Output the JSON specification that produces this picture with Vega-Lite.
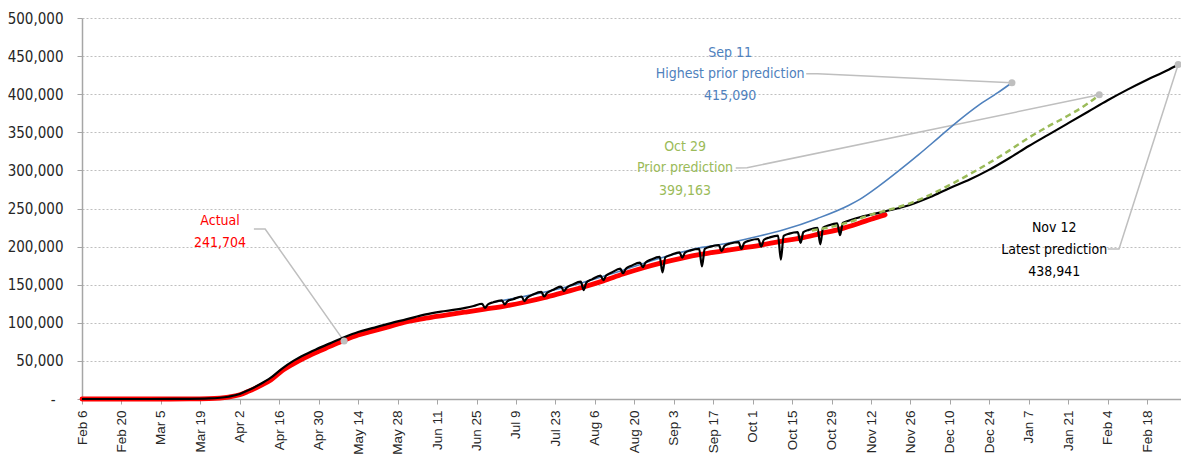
{
  "$schema": "https://vega.github.io/schema/vega-lite/v6.json",
  "width": 1099,
  "height": 381,
  "autosize": {"type": "none"},
  "padding": {"left": 82, "top": 18, "right": 0, "bottom": 65},
  "background": "white",
  "config": {"view": {"stroke": null}},
  "datasets": {
    "actual": [
      {"date": "2020-02-06", "value": 0},
      {"date": "2020-03-01", "value": 0},
      {"date": "2020-03-15", "value": 100},
      {"date": "2020-03-22", "value": 500},
      {"date": "2020-03-29", "value": 2500},
      {"date": "2020-04-02", "value": 5500},
      {"date": "2020-04-05", "value": 10000},
      {"date": "2020-04-09", "value": 17000},
      {"date": "2020-04-13", "value": 25000},
      {"date": "2020-04-17", "value": 37000},
      {"date": "2020-04-21", "value": 46000},
      {"date": "2020-04-25", "value": 54000},
      {"date": "2020-04-29", "value": 61000},
      {"date": "2020-05-04", "value": 69000},
      {"date": "2020-05-09", "value": 77000},
      {"date": "2020-05-14", "value": 84000},
      {"date": "2020-05-19", "value": 89000},
      {"date": "2020-05-25", "value": 95000},
      {"date": "2020-05-31", "value": 101000},
      {"date": "2020-06-07", "value": 106000},
      {"date": "2020-06-14", "value": 110000},
      {"date": "2020-06-21", "value": 114000},
      {"date": "2020-06-28", "value": 118000},
      {"date": "2020-07-05", "value": 122000},
      {"date": "2020-07-12", "value": 127000},
      {"date": "2020-07-19", "value": 133000},
      {"date": "2020-07-26", "value": 140000},
      {"date": "2020-08-02", "value": 147000},
      {"date": "2020-08-09", "value": 155000},
      {"date": "2020-08-16", "value": 164000},
      {"date": "2020-08-23", "value": 172000},
      {"date": "2020-08-30", "value": 179000},
      {"date": "2020-09-06", "value": 185000},
      {"date": "2020-09-13", "value": 190000},
      {"date": "2020-09-20", "value": 194000},
      {"date": "2020-09-27", "value": 198000},
      {"date": "2020-10-04", "value": 202000},
      {"date": "2020-10-11", "value": 207000},
      {"date": "2020-10-18", "value": 211000},
      {"date": "2020-10-25", "value": 217000},
      {"date": "2020-11-01", "value": 223000},
      {"date": "2020-11-08", "value": 231000},
      {"date": "2020-11-12", "value": 236000},
      {"date": "2020-11-17", "value": 241704}
    ],
    "latest": [
      {"date": "2020-02-06", "value": 0},
      {"date": "2020-03-01", "value": 0},
      {"date": "2020-03-15", "value": 200},
      {"date": "2020-03-22", "value": 700},
      {"date": "2020-03-29", "value": 3000},
      {"date": "2020-04-02", "value": 6500},
      {"date": "2020-04-05", "value": 11500},
      {"date": "2020-04-09", "value": 19000},
      {"date": "2020-04-13", "value": 28000},
      {"date": "2020-04-17", "value": 40000},
      {"date": "2020-04-21", "value": 50000},
      {"date": "2020-04-25", "value": 58000},
      {"date": "2020-04-29", "value": 65000},
      {"date": "2020-05-04", "value": 73000},
      {"date": "2020-05-09", "value": 81000},
      {"date": "2020-05-14", "value": 88000},
      {"date": "2020-05-19", "value": 93000},
      {"date": "2020-05-25", "value": 99000},
      {"date": "2020-05-31", "value": 104500},
      {"date": "2020-06-07", "value": 111000},
      {"date": "2020-06-14", "value": 115500},
      {"date": "2020-06-21", "value": 119500},
      {"date": "2020-06-24", "value": 122000},
      {"date": "2020-06-27", "value": 125000},
      {"date": "2020-06-28", "value": 119500},
      {"date": "2020-06-29", "value": 124000},
      {"date": "2020-07-01", "value": 127000},
      {"date": "2020-07-04", "value": 129500},
      {"date": "2020-07-05", "value": 124000},
      {"date": "2020-07-06", "value": 128500},
      {"date": "2020-07-08", "value": 131000},
      {"date": "2020-07-11", "value": 134500},
      {"date": "2020-07-12", "value": 128500},
      {"date": "2020-07-13", "value": 133000},
      {"date": "2020-07-15", "value": 137000},
      {"date": "2020-07-18", "value": 140500},
      {"date": "2020-07-19", "value": 134500},
      {"date": "2020-07-20", "value": 139000},
      {"date": "2020-07-22", "value": 143000},
      {"date": "2020-07-25", "value": 147500},
      {"date": "2020-07-26", "value": 141500},
      {"date": "2020-07-27", "value": 146000},
      {"date": "2020-07-29", "value": 150000},
      {"date": "2020-08-01", "value": 154000},
      {"date": "2020-08-02", "value": 143000},
      {"date": "2020-08-03", "value": 153000},
      {"date": "2020-08-05", "value": 157000},
      {"date": "2020-08-08", "value": 162000},
      {"date": "2020-08-09", "value": 156000},
      {"date": "2020-08-10", "value": 162000},
      {"date": "2020-08-12", "value": 166000},
      {"date": "2020-08-15", "value": 171000},
      {"date": "2020-08-16", "value": 165000},
      {"date": "2020-08-17", "value": 171000},
      {"date": "2020-08-19", "value": 175000},
      {"date": "2020-08-22", "value": 179000},
      {"date": "2020-08-23", "value": 173000},
      {"date": "2020-08-24", "value": 179000},
      {"date": "2020-08-26", "value": 183000},
      {"date": "2020-08-29", "value": 186500},
      {"date": "2020-08-30", "value": 166000},
      {"date": "2020-08-31", "value": 186000},
      {"date": "2020-09-02", "value": 189000},
      {"date": "2020-09-05", "value": 192500},
      {"date": "2020-09-06", "value": 185500},
      {"date": "2020-09-07", "value": 192000},
      {"date": "2020-09-09", "value": 195000},
      {"date": "2020-09-12", "value": 197000},
      {"date": "2020-09-13", "value": 174000},
      {"date": "2020-09-14", "value": 197000},
      {"date": "2020-09-16", "value": 200000},
      {"date": "2020-09-19", "value": 202000},
      {"date": "2020-09-20", "value": 194000},
      {"date": "2020-09-21", "value": 201000},
      {"date": "2020-09-23", "value": 204000},
      {"date": "2020-09-26", "value": 206000},
      {"date": "2020-09-27", "value": 197000},
      {"date": "2020-09-28", "value": 205000},
      {"date": "2020-09-30", "value": 208000},
      {"date": "2020-10-03", "value": 210000},
      {"date": "2020-10-04", "value": 200000},
      {"date": "2020-10-05", "value": 209000},
      {"date": "2020-10-07", "value": 212000},
      {"date": "2020-10-10", "value": 214500},
      {"date": "2020-10-11", "value": 183000},
      {"date": "2020-10-12", "value": 214000},
      {"date": "2020-10-14", "value": 217000},
      {"date": "2020-10-17", "value": 219000},
      {"date": "2020-10-18", "value": 205000},
      {"date": "2020-10-19", "value": 219000},
      {"date": "2020-10-21", "value": 222000},
      {"date": "2020-10-24", "value": 224500},
      {"date": "2020-10-25", "value": 203000},
      {"date": "2020-10-26", "value": 225000},
      {"date": "2020-10-28", "value": 228000},
      {"date": "2020-10-31", "value": 230500},
      {"date": "2020-11-01", "value": 215000},
      {"date": "2020-11-02", "value": 231000},
      {"date": "2020-11-04", "value": 234000},
      {"date": "2020-11-07", "value": 237500},
      {"date": "2020-11-08", "value": 238500},
      {"date": "2020-11-12", "value": 242000},
      {"date": "2020-11-19", "value": 248000},
      {"date": "2020-11-26", "value": 255000},
      {"date": "2020-12-03", "value": 265000},
      {"date": "2020-12-10", "value": 277000},
      {"date": "2020-12-17", "value": 288000},
      {"date": "2020-12-24", "value": 301000},
      {"date": "2020-12-31", "value": 316000},
      {"date": "2021-01-07", "value": 332000},
      {"date": "2021-01-14", "value": 347000},
      {"date": "2021-01-21", "value": 362000},
      {"date": "2021-01-28", "value": 377000},
      {"date": "2021-02-04", "value": 392000},
      {"date": "2021-02-11", "value": 406000},
      {"date": "2021-02-18", "value": 419000},
      {"date": "2021-02-25", "value": 431000},
      {"date": "2021-03-01", "value": 438941}
    ],
    "sep11": [
      {"date": "2020-07-01", "value": 127000},
      {"date": "2020-07-15", "value": 137000},
      {"date": "2020-08-01", "value": 152000},
      {"date": "2020-08-15", "value": 168000},
      {"date": "2020-09-01", "value": 188000},
      {"date": "2020-09-13", "value": 199000},
      {"date": "2020-09-20", "value": 203000},
      {"date": "2020-09-30", "value": 211000},
      {"date": "2020-10-12", "value": 222000},
      {"date": "2020-10-24", "value": 237000},
      {"date": "2020-11-04", "value": 254000},
      {"date": "2020-11-08", "value": 262000},
      {"date": "2020-11-15", "value": 280000},
      {"date": "2020-11-22", "value": 300000},
      {"date": "2020-11-29", "value": 321000},
      {"date": "2020-12-06", "value": 343000},
      {"date": "2020-12-13", "value": 365000},
      {"date": "2020-12-20", "value": 385000},
      {"date": "2020-12-27", "value": 402000},
      {"date": "2021-01-01", "value": 415090}
    ],
    "oct29": [
      {"date": "2020-10-22", "value": 221000},
      {"date": "2020-10-29", "value": 226000},
      {"date": "2020-11-05", "value": 233000},
      {"date": "2020-11-12", "value": 242000},
      {"date": "2020-11-19", "value": 249000},
      {"date": "2020-11-26", "value": 257000},
      {"date": "2020-12-03", "value": 268000},
      {"date": "2020-12-10", "value": 281000},
      {"date": "2020-12-17", "value": 295000},
      {"date": "2020-12-24", "value": 310000},
      {"date": "2020-12-31", "value": 326000},
      {"date": "2021-01-07", "value": 343000},
      {"date": "2021-01-14", "value": 358000},
      {"date": "2021-01-21", "value": 372000},
      {"date": "2021-01-28", "value": 388000},
      {"date": "2021-02-01", "value": 399163}
    ],
    "leaders": [
      {"id": 1, "ord": 1, "date": "2020-10-20", "value": 427000},
      {"id": 1, "ord": 2, "date": "2020-10-24", "value": 427000},
      {"id": 1, "ord": 3, "date": "2021-01-01", "value": 415090},
      {"id": 2, "ord": 1, "date": "2020-09-25", "value": 303000},
      {"id": 2, "ord": 2, "date": "2020-09-29", "value": 303500},
      {"id": 2, "ord": 3, "date": "2021-02-01", "value": 399163},
      {"id": 3, "ord": 1, "date": "2020-04-07", "value": 223000},
      {"id": 3, "ord": 2, "date": "2020-04-11", "value": 223000},
      {"id": 3, "ord": 3, "date": "2020-05-09", "value": 76000},
      {"id": 4, "ord": 1, "date": "2021-02-04", "value": 197000},
      {"id": 4, "ord": 2, "date": "2021-02-08", "value": 197000},
      {"id": 4, "ord": 3, "date": "2021-03-01", "value": 438941}
    ],
    "dots": [
      {"date": "2020-05-09", "value": 76000},
      {"date": "2021-01-01", "value": 415090},
      {"date": "2021-02-01", "value": 399163},
      {"date": "2021-03-01", "value": 438941}
    ],
    "notes": [
      {"text": "Sep 11", "date": "2020-09-23", "value": 454000, "s": "sep"},
      {"text": "Highest prior prediction", "date": "2020-09-23", "value": 426500, "s": "sep"},
      {"text": "415,090", "date": "2020-09-23", "value": 398000, "s": "sep"},
      {"text": "Oct 29", "date": "2020-09-07", "value": 331000, "s": "oct"},
      {"text": "Prior prediction", "date": "2020-09-07", "value": 303000, "s": "oct"},
      {"text": "399,163", "date": "2020-09-07", "value": 273000, "s": "oct"},
      {"text": "Actual", "date": "2020-03-26", "value": 234000, "s": "act"},
      {"text": "241,704", "date": "2020-03-26", "value": 205000, "s": "act"},
      {"text": "Nov 12", "date": "2021-01-16", "value": 224000, "s": "nov"},
      {"text": "Latest prediction", "date": "2021-01-16", "value": 195500, "s": "nov"},
      {"text": "438,941", "date": "2021-01-16", "value": 167000, "s": "nov"}
    ]
  },
  "encoding": {
    "x": {
      "field": "date",
      "type": "temporal",
      "scale": {
        "type": "utc",
        "domain": [
          {"year": 2020, "month": 2, "date": 6, "utc": true},
          {"year": 2021, "month": 3, "date": 2, "utc": true}
        ]
      },
      "axis": {
        "title": null,
        "grid": false,
        "labelExpr": "utcFormat(datum.value, '%b %-d')",
        "values": [
          {"year": 2020, "month": 2, "date": 6, "utc": true},
          {"year": 2020, "month": 2, "date": 20, "utc": true},
          {"year": 2020, "month": 3, "date": 5, "utc": true},
          {"year": 2020, "month": 3, "date": 19, "utc": true},
          {"year": 2020, "month": 4, "date": 2, "utc": true},
          {"year": 2020, "month": 4, "date": 16, "utc": true},
          {"year": 2020, "month": 4, "date": 30, "utc": true},
          {"year": 2020, "month": 5, "date": 14, "utc": true},
          {"year": 2020, "month": 5, "date": 28, "utc": true},
          {"year": 2020, "month": 6, "date": 11, "utc": true},
          {"year": 2020, "month": 6, "date": 25, "utc": true},
          {"year": 2020, "month": 7, "date": 9, "utc": true},
          {"year": 2020, "month": 7, "date": 23, "utc": true},
          {"year": 2020, "month": 8, "date": 6, "utc": true},
          {"year": 2020, "month": 8, "date": 20, "utc": true},
          {"year": 2020, "month": 9, "date": 3, "utc": true},
          {"year": 2020, "month": 9, "date": 17, "utc": true},
          {"year": 2020, "month": 10, "date": 1, "utc": true},
          {"year": 2020, "month": 10, "date": 15, "utc": true},
          {"year": 2020, "month": 10, "date": 29, "utc": true},
          {"year": 2020, "month": 11, "date": 12, "utc": true},
          {"year": 2020, "month": 11, "date": 26, "utc": true},
          {"year": 2020, "month": 12, "date": 10, "utc": true},
          {"year": 2020, "month": 12, "date": 24, "utc": true},
          {"year": 2021, "month": 1, "date": 7, "utc": true},
          {"year": 2021, "month": 1, "date": 21, "utc": true},
          {"year": 2021, "month": 2, "date": 4, "utc": true},
          {"year": 2021, "month": 2, "date": 18, "utc": true}
        ],
        "labelAngle": 270,
        "labelAlign": "right",
        "labelBaseline": "middle",
        "labelFont": "Liberation Sans, Arial, sans-serif",
        "labelFontSize": 13.5,
        "labelColor": "#262626",
        "labelPadding": 6,
        "labelOverlap": false,
        "labelFlush": false,
        "tickSize": 5,
        "tickColor": "#a6a6a6",
        "domainColor": "#a6a6a6",
        "domainWidth": 1.5
      }
    },
    "y": {
      "field": "value",
      "type": "quantitative",
      "scale": {"domain": [0, 500000], "nice": false},
      "axis": {
        "title": null,
        "values": [0, 50000, 100000, 150000, 200000, 250000, 300000, 350000, 400000, 450000, 500000],
        "labelExpr": "datum.value == 0 ? '-' : format(datum.value, ',')",
        "labelFont": "DejaVu Sans Condensed, sans-serif",
        "labelFontSize": 15,
        "labelColor": "#262626",
        "labelPadding": {"condition": {"test": "datum.value == 0", "value": 22}, "value": 14},
        "tickSize": 5,
        "tickColor": "#a6a6a6",
        "domainColor": "#a6a6a6",
        "domainWidth": 1.5,
        "grid": true,
        "gridColor": "#bfbfbf",
        "gridDash": [2, 2],
        "gridWidth": 1
      }
    }
  },
  "layer": [
    {
      "data": {"name": "leaders"},
      "mark": {"type": "line", "color": "#bfbfbf", "strokeWidth": 1.5},
      "encoding": {
        "detail": {"field": "id", "type": "nominal"},
        "order": {"field": "ord", "type": "quantitative"}
      }
    },
    {
      "data": {"name": "sep11"},
      "mark": {"type": "line", "color": "#4f81bd", "strokeWidth": 1.6, "interpolate": "monotone"},
      "encoding": {}
    },
    {
      "data": {"name": "actual"},
      "mark": {"type": "line", "color": "#ff0000", "strokeWidth": 4.8, "strokeCap": "round", "interpolate": "monotone"},
      "encoding": {}
    },
    {
      "data": {"name": "latest"},
      "mark": {"type": "line", "color": "#000000", "strokeWidth": 2.2, "interpolate": "monotone"},
      "encoding": {}
    },
    {
      "data": {"name": "oct29"},
      "mark": {"type": "line", "color": "#9bbb59", "strokeWidth": 2.5, "strokeDash": [6, 4], "interpolate": "monotone"},
      "encoding": {}
    },
    {
      "data": {"name": "dots"},
      "mark": {"type": "point", "filled": true, "color": "#bfbfbf", "opacity": 1, "size": 50},
      "encoding": {}
    },
    {
      "data": {"name": "notes"},
      "mark": {"type": "text", "align": "center", "baseline": "middle", "font": "DejaVu Sans Condensed, sans-serif", "fontSize": 14},
      "encoding": {
        "text": {"field": "text", "type": "nominal"},
        "color": {
          "field": "s",
          "type": "nominal",
          "scale": {"domain": ["sep", "oct", "act", "nov"], "range": ["#4f81bd", "#9bbb59", "#ff0000", "#000000"]},
          "legend": null
        }
      }
    }
  ]
}
